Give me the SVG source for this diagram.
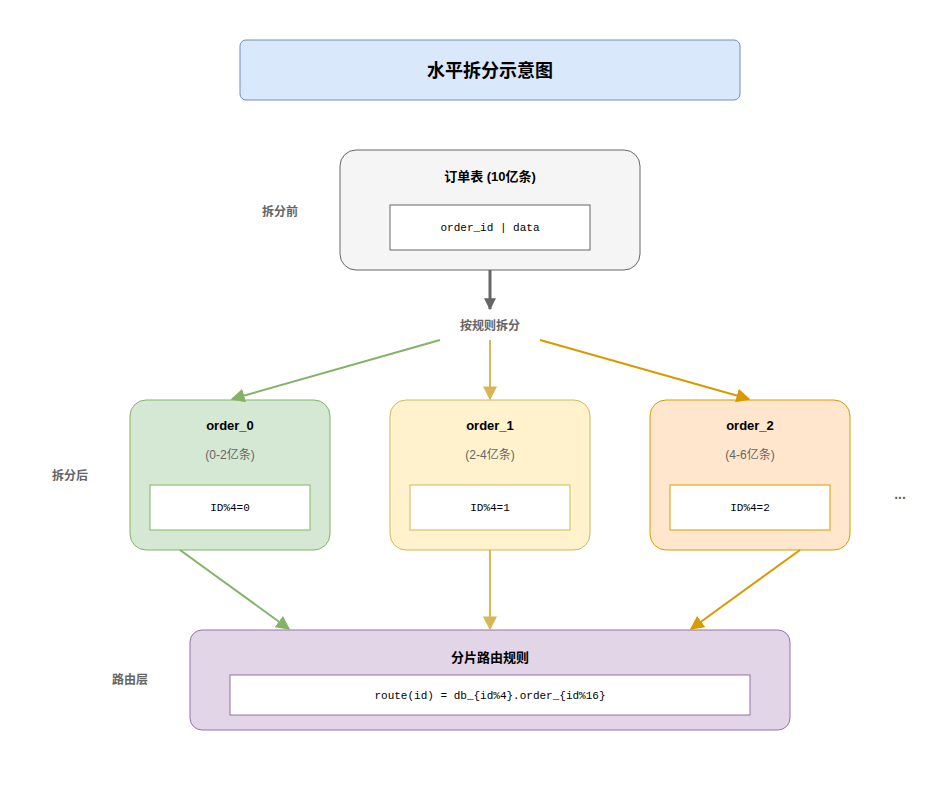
<svg xmlns="http://www.w3.org/2000/svg" width="952" height="789" viewBox="0 0 952 789">
<style>
text{font-family:"Liberation Sans","Noto Sans CJK SC",sans-serif;text-anchor:middle;dominant-baseline:central}
.b{font-weight:bold;font-size:13px;fill:#000}
.lbl{font-weight:bold;font-size:12px;fill:#666}
.sub{font-size:12px;fill:#666}
.m{font-family:"Liberation Mono","DejaVu Sans Mono",monospace;font-size:11px;fill:#000}
.in{fill:#fff}
</style>
<defs>
<marker id="ag" viewBox="0 0 10 10" refX="9" refY="5" markerWidth="7" markerHeight="7" orient="auto"><path d="M0,0L10,5L0,10z" fill="#82b366"/></marker>
<marker id="ay" viewBox="0 0 10 10" refX="9" refY="5" markerWidth="7" markerHeight="7" orient="auto"><path d="M0,0L10,5L0,10z" fill="#d6b656"/></marker>
<marker id="ao" viewBox="0 0 10 10" refX="9" refY="5" markerWidth="7" markerHeight="7" orient="auto"><path d="M0,0L10,5L0,10z" fill="#d79b00"/></marker>
<marker id="ak" viewBox="0 0 10 10" refX="9" refY="5" markerWidth="4" markerHeight="4" orient="auto"><path d="M0,0L10,5L0,10z" fill="#666"/></marker>
</defs>
<rect width="952" height="789" fill="#fff"/>
<g id="title"><rect x="240" y="40" width="500" height="60" rx="6" fill="#dae8fc" stroke="#6c8ebf"/><text x="490" y="71" style="font-size:18px;font-weight:bold">水平拆分示意图</text></g>
<g id="orders"><rect x="340" y="150" width="300" height="120" rx="16" fill="#f5f5f5" stroke="#666"/><text class="b" x="490" y="176">订单表 (10亿条)</text><rect class="in" x="390" y="205" width="200" height="45" stroke="#666"/><text class="m" x="490" y="228">order_id | data</text></g>
<g id="labels"><text class="lbl" x="280" y="212">拆分前</text><text class="lbl" x="70" y="476">拆分后</text><text class="lbl" x="130" y="680">路由层</text><text class="lbl" x="490" y="326">按规则拆分</text><text x="900" y="494" style="font-size:14px;font-weight:bold;fill:#666">...</text></g>
<g id="order0"><rect x="130" y="400" width="200" height="150" rx="16" fill="#d5e8d4" stroke="#82b366"/><text class="b" x="230" y="425">order_0</text><text class="sub" x="230" y="455">(0-2亿条)</text><rect class="in" x="150" y="485" width="160" height="45" stroke="#82b366"/><text class="m" x="230" y="508">ID%4=0</text></g>
<g id="order1"><rect x="390" y="400" width="200" height="150" rx="16" fill="#fff2cc" stroke="#d6b656"/><text class="b" x="490" y="425">order_1</text><text class="sub" x="490" y="455">(2-4亿条)</text><rect class="in" x="410" y="485" width="160" height="45" stroke="#d6b656"/><text class="m" x="490" y="508">ID%4=1</text></g>
<g id="order2"><rect x="650" y="400" width="200" height="150" rx="16" fill="#ffe6cc" stroke="#d79b00"/><text class="b" x="750" y="425">order_2</text><text class="sub" x="750" y="455">(4-6亿条)</text><rect class="in" x="670" y="485" width="160" height="45" stroke="#d79b00"/><text class="m" x="750" y="508">ID%4=2</text></g>
<g id="route"><rect x="190" y="630" width="600" height="100" rx="12" fill="#e1d5e7" stroke="#9673a6"/><text class="b" x="490" y="657">分片路由规则</text><rect class="in" x="230" y="675" width="520" height="40" stroke="#9673a6"/><text class="m" x="490" y="696">route(id) = db_{id%4}.order_{id%16}</text></g>
<g id="connectors" fill="none" stroke-width="2">
<path d="M490,270V309" stroke="#666" stroke-width="3" marker-end="url(#ak)"/>
<path d="M440,340L232,399" stroke="#82b366" marker-end="url(#ag)"/>
<path d="M490,340V399" stroke="#d6b656" marker-end="url(#ay)"/>
<path d="M540,340L749,399" stroke="#d79b00" marker-end="url(#ao)"/>
<path d="M180,550L289,629" stroke="#82b366" marker-end="url(#ag)"/>
<path d="M490,550V629" stroke="#d6b656" marker-end="url(#ay)"/>
<path d="M800,550L691,629" stroke="#d79b00" marker-end="url(#ao)"/>
</g>
</svg>
